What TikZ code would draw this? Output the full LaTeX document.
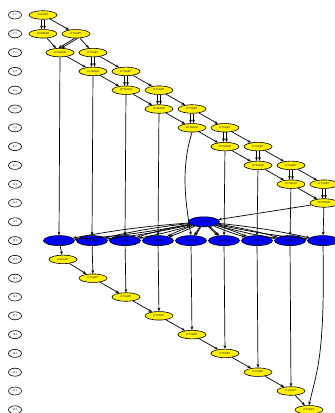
\documentclass[tikz,border=0pt]{standalone}
\usetikzlibrary{shapes.geometric}
\usetikzlibrary{arrows.meta}
\begin{document}
\begin{tikzpicture}[x=1pt,y=-1pt,>={Stealth[length=3.6pt,width=2.8pt]},
  every node/.style={ellipse,draw,line width=0.6pt,inner sep=0pt,font=\sffamily\fontsize{2.6}{3}\selectfont},
  lvl/.style={minimum width=13pt,minimum height=8pt},
  task/.style={fill=yellow,minimum width=28pt,minimum height=8.5pt},
  lq/.style={fill=blue,minimum width=31pt,minimum height=10pt},
  dep/.style={->,line width=0.7pt}]
\useasboundingbox (0,0) rectangle (335,413);
\foreach \r/\c in {1/1,2/2,3/2,4/2,5/2,6/2,7/2,8/2,9/2,10/2,11/1,12/1,13/9,14/1,15/1,16/1,17/1,18/1,19/1,20/1,21/1,22/1}
  \node[lvl] (l\r) at (15,{15+(\r-1)*18.8}) {\r:\c};
% QR panel
\node[task] (q1) at (43,15) {DGEQRT};
\node[task] (m2) at (43,33.8) {DORMQR};
\node[task] (t2) at (76,33.8) {DTSQRT};
\foreach \k in {3,...,10}{
  \node[task] (s\k) at ({60+(\k-3)*33},{15+(\k-1)*18.8}) {DTSMQR};
  \node[task] (t\k) at ({93+(\k-3)*33},{15+(\k-1)*18.8}) {DTSQRT};
}
\node[task] (s11) at (324,203) {DTSMQR};
% LQ row
\node[lq] (g) at (204,221.8) {DGELQT};
\foreach \j in {1,...,9}
  \node[lq] (b\j) at ({59+(\j-1)*33},240.6) {DORMLQ};
% second QR panel
\node[task] (r14) at (63,259.4) {DGEQRT};
\foreach \k in {15,...,21}
  \node[task] (r\k) at ({93+(\k-15)*33},{15+(\k-1)*18.8}) {DTSQRT};
\node[task] (r22) at (309,409.8) {DTSQRT};

\foreach \d in {-1.5,1.5}
  \draw[dep] ([xshift=\d]q1.south) -- ([xshift=\d]m2.north);
\draw[dep] (q1) -- (t2);
\draw[dep] (m2) -- (s3);
\foreach \k/\n in {2/3,3/4,4/5,5/6,6/7,7/8,8/9,9/10,10/11}{
  \draw[dep] ([xshift=-1.5]t\k.south) -- ([xshift=-1.5]s\n.north);
  \draw[dep] ([xshift=1.5]t\k.south) -- ([xshift=1.5]s\n.north);
}
\foreach \k/\n in {2/3,3/4,4/5,5/6,6/7,7/8,8/9,9/10}
  \draw[dep] (t\k) -- (t\n);
\foreach \k/\n in {3/4,4/5,5/6,6/7,7/8,8/9,9/10,10/11}
  \draw[dep] (s\k) -- (s\n);
\foreach \k/\j in {3/1,4/2,5/3,6/4,8/6,9/7,10/8,11/9}
  \draw[dep] (s\k) -- (b\j);
\draw[dep] (s7.south) .. controls +(-11,35) and +(-6,-35) .. (b5.north);
\draw[dep] (s11) -- (g);
\foreach \j in {1,...,9}{
  \draw[dep] (g) to[bend left=3] (b\j);
  \draw[dep] (g) to[bend right=3] (b\j);
}
\draw[dep] (b1) -- (r14);
\foreach \j/\n in {2/15,3/16,4/17,5/18,6/19,7/20,8/21}
  \draw[dep] (b\j) -- (r\n);
\draw[dep] (b9.south) .. controls +(2,110) and +(8,-35) .. (r22.north);
\foreach \k/\n in {14/15,15/16,16/17,17/18,18/19,19/20,20/21,21/22}
  \draw[dep] (r\k) -- (r\n);
\end{tikzpicture}
\end{document}
